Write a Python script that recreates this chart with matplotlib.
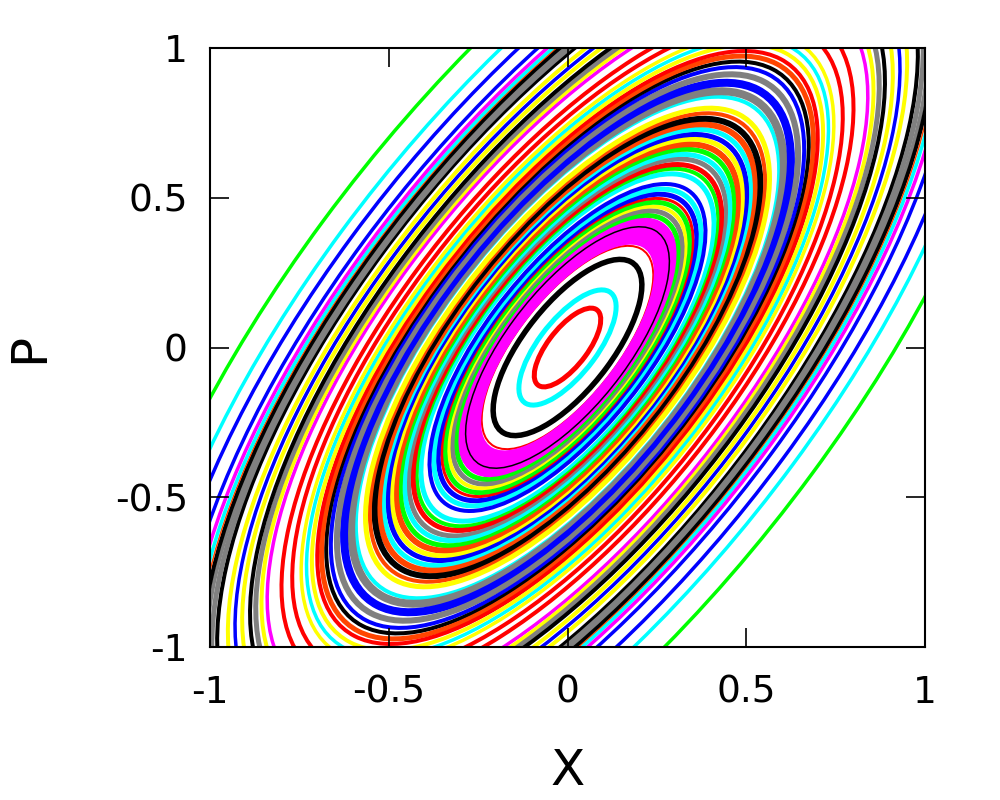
import numpy as np
import matplotlib
matplotlib.use("Agg")
import matplotlib.pyplot as plt
from matplotlib.patches import Ellipse

# Invariant curves x^2 + (P - x)^2 = R^2 ; R = max |X| reached by each orbit
radii = [0.093, 0.136, 0.208, 0.240,
         0.250, 0.260, 0.270, 0.280, 0.290, 0.300, 0.285,
         0.312, 0.323, 0.333, 0.343, 0.352, 0.362, 0.374, 0.386,
         0.410, 0.422, 0.432, 0.445, 0.456, 0.468, 0.480, 0.492,
         0.503, 0.515, 0.527, 0.540, 0.553, 0.565,
         0.592, 0.605, 0.625, 0.645, 0.662, 0.675, 0.688, 0.700,
         0.715, 0.730, 0.745, 0.770, 0.800, 0.840, 0.856, 0.872,
         0.888, 0.910, 0.930, 0.950, 0.980, 0.995, 1.010, 1.022,
         1.032, 1.042, 1.058, 1.086, 1.145, 1.200, 1.300]
colors = ['red', 'cyan', 'black', 'red',
          'magenta', 'magenta', 'magenta', 'magenta', 'magenta', 'magenta', 'black',
          'lime', 'gray', 'yellow', 'lime', 'red', 'blue', 'cyan', 'blue',
          'cyan', 'lime', 'red', 'gray', 'cyan', 'lime', 'orangered', 'yellow',
          'blue', 'cyan', 'orangered', 'black', 'orangered', 'yellow',
          'cyan', 'gray', 'blue', 'gray', 'blue', 'black', 'orangered', 'red',
          'yellow', 'cyan', 'yellow', 'red', 'red', 'magenta', 'yellow', 'gray',
          'black', 'yellow', 'blue', 'yellow', 'black', 'gray', 'gray', 'black',
          'orangered', 'cyan', 'magenta', 'blue', 'blue', 'cyan', 'lime']
widths_px = [5, 5, 5.5, 2,
             6, 6, 6, 6, 6, 6, 1.5,
             5, 5, 4, 5, 3, 5, 5, 4,
             5, 4, 5, 5, 5, 5, 6, 5,
             5, 5, 6, 6, 4, 5,
             4, 8, 8, 6, 4, 4, 5, 4,
             4, 3.5, 3.5, 4, 4, 3.5, 4, 5,
             4, 4, 3.5, 4, 4, 5, 4, 4,
             1.5, 3.5, 3.5, 3.5, 3.5, 3.5, 3.5]

xticks = [-1, -0.5, 0, 0.5, 1]
yticks = [-1, -0.5, 0, 0.5, 1]
xtick_labels = ['-1', '-0.5', '0', '0.5', '1']
ytick_labels = ['-1', '-0.5', '0', '0.5', '1']

# shape of the quadratic form 2x^2 - 2xP + P^2 (golden-ratio ellipse)
phi = (1 + 5 ** 0.5) / 2
angle = np.degrees(np.arctan(phi))

fig = plt.figure(figsize=(10, 8), dpi=100)
ax = fig.add_axes([0.21, 1 - 647 / 800, 0.715, (647 - 48) / 800])

for r, c, w in zip(radii, colors, widths_px):
    e = Ellipse((0, 0), width=2 * r * phi, height=2 * r / phi, angle=angle,
                fill=False, edgecolor=c, linewidth=w * 0.72)
    ax.add_patch(e)

ax.set_xlim(-1, 1)
ax.set_ylim(-1, 1)
ax.set_xticks(xticks)
ax.set_yticks(yticks)
ax.set_xticklabels(xtick_labels)
ax.set_yticklabels(ytick_labels)
ax.tick_params(direction='in', length=14, width=1.2, top=True, right=True,
               labelsize=27, color='black')
ax.tick_params(axis='x', pad=20)
ax.tick_params(axis='y', pad=16)
for s in ax.spines.values():
    s.set_linewidth(1.5)
ax.set_xlabel('X', fontsize=36, labelpad=26)
ax.set_ylabel('P', fontsize=36, labelpad=44)

fig.savefig('out.png', dpi=100)
